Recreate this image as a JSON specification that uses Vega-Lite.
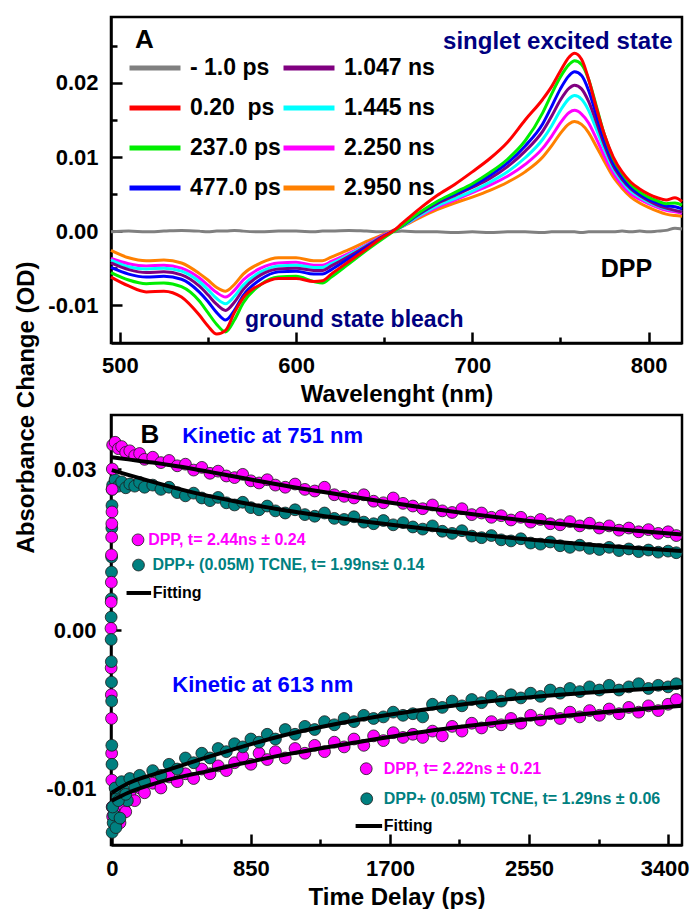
{
"$schema":"https://vega.github.io/schema/vega-lite/v6.json",
"background":"white",
"padding":{"left":12,"top":15,"right":0,"bottom":0},
"spacing":72,
"bounds":"flush",
"config":{
 "view":{"stroke":"black","strokeWidth":2.5},
 "font":"Liberation Sans",
 "axis":{"grid":false,"domainColor":"black","domainWidth":2.5,"tickColor":"black","tickWidth":2.5,"labelColor":"black","labelFont":"Liberation Sans","labelFontWeight":"bold","labelFontSize":22,"titleFont":"Liberation Sans","titleFontWeight":"bold","titleFontSize":24,"titleColor":"black","labelFlush":false,"labelOverlap":false}
},
"datasets":{
"spec":[
{"w":495,"s":"- 1.0 ps","v":-0.0001},{"w":505,"s":"- 1.0 ps","v":0.0},{"w":515,"s":"- 1.0 ps","v":-0.0001},{"w":525,"s":"- 1.0 ps","v":0.0},{"w":535,"s":"- 1.0 ps","v":0.0001},{"w":545,"s":"- 1.0 ps","v":0.0},{"w":550,"s":"- 1.0 ps","v":-0.0001},{"w":555,"s":"- 1.0 ps","v":0.0},{"w":560,"s":"- 1.0 ps","v":0.0},{"w":565,"s":"- 1.0 ps","v":0.0001},{"w":570,"s":"- 1.0 ps","v":0.0},{"w":580,"s":"- 1.0 ps","v":-0.0001},{"w":590,"s":"- 1.0 ps","v":0.0},{"w":600,"s":"- 1.0 ps","v":0.0},{"w":610,"s":"- 1.0 ps","v":-0.0001},{"w":615,"s":"- 1.0 ps","v":0.0},{"w":620,"s":"- 1.0 ps","v":0.0},{"w":630,"s":"- 1.0 ps","v":0.0001},{"w":640,"s":"- 1.0 ps","v":0.0},{"w":650,"s":"- 1.0 ps","v":-0.0001},{"w":655,"s":"- 1.0 ps","v":-0.0001},{"w":660,"s":"- 1.0 ps","v":0.0},{"w":670,"s":"- 1.0 ps","v":-0.0001},{"w":680,"s":"- 1.0 ps","v":-0.0001},{"w":690,"s":"- 1.0 ps","v":-0.0002},{"w":700,"s":"- 1.0 ps","v":-0.0001},{"w":710,"s":"- 1.0 ps","v":-0.0002},{"w":720,"s":"- 1.0 ps","v":-0.0001},{"w":730,"s":"- 1.0 ps","v":-0.0001},{"w":740,"s":"- 1.0 ps","v":-0.0002},{"w":745,"s":"- 1.0 ps","v":-0.0001},{"w":750,"s":"- 1.0 ps","v":-0.0001},{"w":755,"s":"- 1.0 ps","v":-0.0001},{"w":758,"s":"- 1.0 ps","v":-0.0001},{"w":762,"s":"- 1.0 ps","v":-0.0002},{"w":766,"s":"- 1.0 ps","v":-0.0001},{"w":770,"s":"- 1.0 ps","v":-0.0001},{"w":775,"s":"- 1.0 ps","v":-0.0001},{"w":780,"s":"- 1.0 ps","v":-0.0001},{"w":785,"s":"- 1.0 ps","v":0.0},{"w":790,"s":"- 1.0 ps","v":-0.0001},{"w":795,"s":"- 1.0 ps","v":0.0},{"w":800,"s":"- 1.0 ps","v":-0.0001},{"w":805,"s":"- 1.0 ps","v":0.0},{"w":810,"s":"- 1.0 ps","v":0.0001},{"w":815,"s":"- 1.0 ps","v":0.0004},{"w":819,"s":"- 1.0 ps","v":0.0003},
{"w":495,"s":"2.950 ns","v":-0.0026},{"w":505,"s":"2.950 ns","v":-0.0036},{"w":515,"s":"2.950 ns","v":-0.004},{"w":525,"s":"2.950 ns","v":-0.0039},{"w":535,"s":"2.950 ns","v":-0.0043},{"w":545,"s":"2.950 ns","v":-0.0057},{"w":550,"s":"2.950 ns","v":-0.0066},{"w":555,"s":"2.950 ns","v":-0.0076},{"w":560,"s":"2.950 ns","v":-0.0081},{"w":565,"s":"2.950 ns","v":-0.0072},{"w":570,"s":"2.950 ns","v":-0.0058},{"w":580,"s":"2.950 ns","v":-0.0043},{"w":590,"s":"2.950 ns","v":-0.0036},{"w":600,"s":"2.950 ns","v":-0.0036},{"w":610,"s":"2.950 ns","v":-0.004},{"w":615,"s":"2.950 ns","v":-0.004},{"w":620,"s":"2.950 ns","v":-0.0035},{"w":630,"s":"2.950 ns","v":-0.0025},{"w":640,"s":"2.950 ns","v":-0.0014},{"w":650,"s":"2.950 ns","v":-0.0004},{"w":655,"s":"2.950 ns","v":0.0001},{"w":660,"s":"2.950 ns","v":0.0006},{"w":670,"s":"2.950 ns","v":0.0018},{"w":680,"s":"2.950 ns","v":0.0029},{"w":690,"s":"2.950 ns","v":0.0038},{"w":700,"s":"2.950 ns","v":0.0046},{"w":710,"s":"2.950 ns","v":0.0055},{"w":720,"s":"2.950 ns","v":0.0066},{"w":730,"s":"2.950 ns","v":0.008},{"w":740,"s":"2.950 ns","v":0.01},{"w":745,"s":"2.950 ns","v":0.0115},{"w":750,"s":"2.950 ns","v":0.0132},{"w":755,"s":"2.950 ns","v":0.0145},{"w":758,"s":"2.950 ns","v":0.0148},{"w":762,"s":"2.950 ns","v":0.0144},{"w":766,"s":"2.950 ns","v":0.0133},{"w":770,"s":"2.950 ns","v":0.0116},{"w":775,"s":"2.950 ns","v":0.0094},{"w":780,"s":"2.950 ns","v":0.0073},{"w":785,"s":"2.950 ns","v":0.0058},{"w":790,"s":"2.950 ns","v":0.0046},{"w":795,"s":"2.950 ns","v":0.0038},{"w":800,"s":"2.950 ns","v":0.0032},{"w":805,"s":"2.950 ns","v":0.0027},{"w":810,"s":"2.950 ns","v":0.0023},{"w":815,"s":"2.950 ns","v":0.0021},{"w":819,"s":"2.950 ns","v":0.002},
{"w":495,"s":"2.250 ns","v":-0.0037},{"w":505,"s":"2.250 ns","v":-0.0044},{"w":515,"s":"2.250 ns","v":-0.0047},{"w":525,"s":"2.250 ns","v":-0.0046},{"w":535,"s":"2.250 ns","v":-0.005},{"w":545,"s":"2.250 ns","v":-0.0063},{"w":550,"s":"2.250 ns","v":-0.0073},{"w":555,"s":"2.250 ns","v":-0.0083},{"w":560,"s":"2.250 ns","v":-0.0089},{"w":565,"s":"2.250 ns","v":-0.008},{"w":570,"s":"2.250 ns","v":-0.0066},{"w":580,"s":"2.250 ns","v":-0.005},{"w":590,"s":"2.250 ns","v":-0.0043},{"w":600,"s":"2.250 ns","v":-0.0042},{"w":610,"s":"2.250 ns","v":-0.0046},{"w":615,"s":"2.250 ns","v":-0.0046},{"w":620,"s":"2.250 ns","v":-0.0041},{"w":630,"s":"2.250 ns","v":-0.003},{"w":640,"s":"2.250 ns","v":-0.0018},{"w":650,"s":"2.250 ns","v":-0.0005},{"w":655,"s":"2.250 ns","v":0.0},{"w":660,"s":"2.250 ns","v":0.0006},{"w":670,"s":"2.250 ns","v":0.002},{"w":680,"s":"2.250 ns","v":0.0032},{"w":690,"s":"2.250 ns","v":0.0042},{"w":700,"s":"2.250 ns","v":0.0052},{"w":710,"s":"2.250 ns","v":0.0062},{"w":720,"s":"2.250 ns","v":0.0074},{"w":730,"s":"2.250 ns","v":0.009},{"w":740,"s":"2.250 ns","v":0.0112},{"w":745,"s":"2.250 ns","v":0.0128},{"w":750,"s":"2.250 ns","v":0.0146},{"w":755,"s":"2.250 ns","v":0.016},{"w":758,"s":"2.250 ns","v":0.0163},{"w":762,"s":"2.250 ns","v":0.0158},{"w":766,"s":"2.250 ns","v":0.0146},{"w":770,"s":"2.250 ns","v":0.0127},{"w":775,"s":"2.250 ns","v":0.0101},{"w":780,"s":"2.250 ns","v":0.0078},{"w":785,"s":"2.250 ns","v":0.0062},{"w":790,"s":"2.250 ns","v":0.005},{"w":795,"s":"2.250 ns","v":0.0043},{"w":800,"s":"2.250 ns","v":0.0037},{"w":805,"s":"2.250 ns","v":0.0032},{"w":810,"s":"2.250 ns","v":0.0028},{"w":815,"s":"2.250 ns","v":0.0026},{"w":819,"s":"2.250 ns","v":0.0024},
{"w":495,"s":"1.445 ns","v":-0.0039},{"w":505,"s":"1.445 ns","v":-0.0048},{"w":515,"s":"1.445 ns","v":-0.0051},{"w":525,"s":"1.445 ns","v":-0.005},{"w":535,"s":"1.445 ns","v":-0.0054},{"w":545,"s":"1.445 ns","v":-0.0068},{"w":550,"s":"1.445 ns","v":-0.0079},{"w":555,"s":"1.445 ns","v":-0.0091},{"w":560,"s":"1.445 ns","v":-0.0098},{"w":565,"s":"1.445 ns","v":-0.0088},{"w":570,"s":"1.445 ns","v":-0.0073},{"w":580,"s":"1.445 ns","v":-0.0055},{"w":590,"s":"1.445 ns","v":-0.0047},{"w":600,"s":"1.445 ns","v":-0.0046},{"w":610,"s":"1.445 ns","v":-0.0049},{"w":615,"s":"1.445 ns","v":-0.0049},{"w":620,"s":"1.445 ns","v":-0.0044},{"w":630,"s":"1.445 ns","v":-0.0032},{"w":640,"s":"1.445 ns","v":-0.0019},{"w":650,"s":"1.445 ns","v":-0.0006},{"w":655,"s":"1.445 ns","v":0.0},{"w":660,"s":"1.445 ns","v":0.0006},{"w":670,"s":"1.445 ns","v":0.0021},{"w":680,"s":"1.445 ns","v":0.0034},{"w":690,"s":"1.445 ns","v":0.0044},{"w":700,"s":"1.445 ns","v":0.0054},{"w":710,"s":"1.445 ns","v":0.0066},{"w":720,"s":"1.445 ns","v":0.008},{"w":730,"s":"1.445 ns","v":0.0099},{"w":740,"s":"1.445 ns","v":0.0124},{"w":745,"s":"1.445 ns","v":0.0142},{"w":750,"s":"1.445 ns","v":0.0163},{"w":755,"s":"1.445 ns","v":0.0179},{"w":758,"s":"1.445 ns","v":0.0183},{"w":762,"s":"1.445 ns","v":0.0178},{"w":766,"s":"1.445 ns","v":0.0163},{"w":770,"s":"1.445 ns","v":0.014},{"w":775,"s":"1.445 ns","v":0.011},{"w":780,"s":"1.445 ns","v":0.0084},{"w":785,"s":"1.445 ns","v":0.0067},{"w":790,"s":"1.445 ns","v":0.0054},{"w":795,"s":"1.445 ns","v":0.0046},{"w":800,"s":"1.445 ns","v":0.0039},{"w":805,"s":"1.445 ns","v":0.0034},{"w":810,"s":"1.445 ns","v":0.003},{"w":815,"s":"1.445 ns","v":0.0028},{"w":819,"s":"1.445 ns","v":0.0026},
{"w":495,"s":"1.047 ns","v":-0.0043},{"w":505,"s":"1.047 ns","v":-0.0052},{"w":515,"s":"1.047 ns","v":-0.0056},{"w":525,"s":"1.047 ns","v":-0.0055},{"w":535,"s":"1.047 ns","v":-0.0059},{"w":545,"s":"1.047 ns","v":-0.0074},{"w":550,"s":"1.047 ns","v":-0.0086},{"w":555,"s":"1.047 ns","v":-0.0099},{"w":560,"s":"1.047 ns","v":-0.0107},{"w":565,"s":"1.047 ns","v":-0.0096},{"w":570,"s":"1.047 ns","v":-0.0079},{"w":580,"s":"1.047 ns","v":-0.0059},{"w":590,"s":"1.047 ns","v":-0.0051},{"w":600,"s":"1.047 ns","v":-0.005},{"w":610,"s":"1.047 ns","v":-0.0053},{"w":615,"s":"1.047 ns","v":-0.0053},{"w":620,"s":"1.047 ns","v":-0.0047},{"w":630,"s":"1.047 ns","v":-0.0034},{"w":640,"s":"1.047 ns","v":-0.002},{"w":650,"s":"1.047 ns","v":-0.0006},{"w":655,"s":"1.047 ns","v":0.0},{"w":660,"s":"1.047 ns","v":0.0007},{"w":670,"s":"1.047 ns","v":0.0023},{"w":680,"s":"1.047 ns","v":0.0037},{"w":690,"s":"1.047 ns","v":0.0048},{"w":700,"s":"1.047 ns","v":0.0059},{"w":710,"s":"1.047 ns","v":0.0071},{"w":720,"s":"1.047 ns","v":0.0087},{"w":730,"s":"1.047 ns","v":0.0108},{"w":740,"s":"1.047 ns","v":0.0135},{"w":745,"s":"1.047 ns","v":0.0155},{"w":750,"s":"1.047 ns","v":0.0177},{"w":755,"s":"1.047 ns","v":0.0193},{"w":758,"s":"1.047 ns","v":0.0197},{"w":762,"s":"1.047 ns","v":0.0192},{"w":766,"s":"1.047 ns","v":0.0175},{"w":770,"s":"1.047 ns","v":0.015},{"w":775,"s":"1.047 ns","v":0.0116},{"w":780,"s":"1.047 ns","v":0.0088},{"w":785,"s":"1.047 ns","v":0.007},{"w":790,"s":"1.047 ns","v":0.0057},{"w":795,"s":"1.047 ns","v":0.0048},{"w":800,"s":"1.047 ns","v":0.0041},{"w":805,"s":"1.047 ns","v":0.0035},{"w":810,"s":"1.047 ns","v":0.0031},{"w":815,"s":"1.047 ns","v":0.0028},{"w":819,"s":"1.047 ns","v":0.0026},
{"w":495,"s":"477.0 ps","v":-0.0049},{"w":505,"s":"477.0 ps","v":-0.0058},{"w":515,"s":"477.0 ps","v":-0.0062},{"w":525,"s":"477.0 ps","v":-0.0061},{"w":535,"s":"477.0 ps","v":-0.0065},{"w":545,"s":"477.0 ps","v":-0.0082},{"w":550,"s":"477.0 ps","v":-0.0095},{"w":555,"s":"477.0 ps","v":-0.011},{"w":560,"s":"477.0 ps","v":-0.012},{"w":565,"s":"477.0 ps","v":-0.0107},{"w":570,"s":"477.0 ps","v":-0.0087},{"w":580,"s":"477.0 ps","v":-0.0065},{"w":590,"s":"477.0 ps","v":-0.0055},{"w":600,"s":"477.0 ps","v":-0.0054},{"w":610,"s":"477.0 ps","v":-0.0058},{"w":615,"s":"477.0 ps","v":-0.0058},{"w":620,"s":"477.0 ps","v":-0.0052},{"w":630,"s":"477.0 ps","v":-0.0037},{"w":640,"s":"477.0 ps","v":-0.0022},{"w":650,"s":"477.0 ps","v":-0.0007},{"w":655,"s":"477.0 ps","v":0.0},{"w":660,"s":"477.0 ps","v":0.0007},{"w":670,"s":"477.0 ps","v":0.0024},{"w":680,"s":"477.0 ps","v":0.0039},{"w":690,"s":"477.0 ps","v":0.005},{"w":700,"s":"477.0 ps","v":0.0061},{"w":710,"s":"477.0 ps","v":0.0075},{"w":720,"s":"477.0 ps","v":0.0092},{"w":730,"s":"477.0 ps","v":0.0115},{"w":740,"s":"477.0 ps","v":0.0145},{"w":745,"s":"477.0 ps","v":0.0168},{"w":750,"s":"477.0 ps","v":0.0192},{"w":755,"s":"477.0 ps","v":0.021},{"w":758,"s":"477.0 ps","v":0.0215},{"w":762,"s":"477.0 ps","v":0.021},{"w":766,"s":"477.0 ps","v":0.019},{"w":770,"s":"477.0 ps","v":0.016},{"w":775,"s":"477.0 ps","v":0.0122},{"w":780,"s":"477.0 ps","v":0.0092},{"w":785,"s":"477.0 ps","v":0.0073},{"w":790,"s":"477.0 ps","v":0.0059},{"w":795,"s":"477.0 ps","v":0.005},{"w":800,"s":"477.0 ps","v":0.0043},{"w":805,"s":"477.0 ps","v":0.0038},{"w":810,"s":"477.0 ps","v":0.0034},{"w":815,"s":"477.0 ps","v":0.0033},{"w":819,"s":"477.0 ps","v":0.003},
{"w":495,"s":"237.0 ps","v":-0.0056},{"w":505,"s":"237.0 ps","v":-0.0066},{"w":515,"s":"237.0 ps","v":-0.0071},{"w":525,"s":"237.0 ps","v":-0.007},{"w":535,"s":"237.0 ps","v":-0.0075},{"w":545,"s":"237.0 ps","v":-0.0094},{"w":550,"s":"237.0 ps","v":-0.011},{"w":555,"s":"237.0 ps","v":-0.0126},{"w":560,"s":"237.0 ps","v":-0.0136},{"w":565,"s":"237.0 ps","v":-0.012},{"w":570,"s":"237.0 ps","v":-0.0097},{"w":580,"s":"237.0 ps","v":-0.0072},{"w":590,"s":"237.0 ps","v":-0.0062},{"w":600,"s":"237.0 ps","v":-0.0061},{"w":610,"s":"237.0 ps","v":-0.0068},{"w":615,"s":"237.0 ps","v":-0.007},{"w":620,"s":"237.0 ps","v":-0.0062},{"w":630,"s":"237.0 ps","v":-0.0044},{"w":640,"s":"237.0 ps","v":-0.0026},{"w":650,"s":"237.0 ps","v":-0.0009},{"w":655,"s":"237.0 ps","v":-0.0001},{"w":660,"s":"237.0 ps","v":0.0007},{"w":670,"s":"237.0 ps","v":0.0025},{"w":680,"s":"237.0 ps","v":0.004},{"w":690,"s":"237.0 ps","v":0.0052},{"w":700,"s":"237.0 ps","v":0.0064},{"w":710,"s":"237.0 ps","v":0.0079},{"w":720,"s":"237.0 ps","v":0.0097},{"w":730,"s":"237.0 ps","v":0.0122},{"w":740,"s":"237.0 ps","v":0.016},{"w":745,"s":"237.0 ps","v":0.0185},{"w":750,"s":"237.0 ps","v":0.0208},{"w":755,"s":"237.0 ps","v":0.0225},{"w":758,"s":"237.0 ps","v":0.023},{"w":762,"s":"237.0 ps","v":0.0225},{"w":766,"s":"237.0 ps","v":0.0205},{"w":770,"s":"237.0 ps","v":0.0172},{"w":775,"s":"237.0 ps","v":0.013},{"w":780,"s":"237.0 ps","v":0.0098},{"w":785,"s":"237.0 ps","v":0.0078},{"w":790,"s":"237.0 ps","v":0.0063},{"w":795,"s":"237.0 ps","v":0.0053},{"w":800,"s":"237.0 ps","v":0.0046},{"w":805,"s":"237.0 ps","v":0.0041},{"w":810,"s":"237.0 ps","v":0.0037},{"w":815,"s":"237.0 ps","v":0.0038},{"w":819,"s":"237.0 ps","v":0.0035},
{"w":495,"s":"0.20\u00a0\u00a0ps","v":-0.0062},{"w":505,"s":"0.20\u00a0\u00a0ps","v":-0.0074},{"w":515,"s":"0.20\u00a0\u00a0ps","v":-0.0082},{"w":525,"s":"0.20\u00a0\u00a0ps","v":-0.0081},{"w":535,"s":"0.20\u00a0\u00a0ps","v":-0.0089},{"w":545,"s":"0.20\u00a0\u00a0ps","v":-0.0113},{"w":550,"s":"0.20\u00a0\u00a0ps","v":-0.0128},{"w":555,"s":"0.20\u00a0\u00a0ps","v":-0.0139},{"w":560,"s":"0.20\u00a0\u00a0ps","v":-0.0134},{"w":565,"s":"0.20\u00a0\u00a0ps","v":-0.011},{"w":570,"s":"0.20\u00a0\u00a0ps","v":-0.009},{"w":580,"s":"0.20\u00a0\u00a0ps","v":-0.0072},{"w":590,"s":"0.20\u00a0\u00a0ps","v":-0.0064},{"w":600,"s":"0.20\u00a0\u00a0ps","v":-0.0064},{"w":610,"s":"0.20\u00a0\u00a0ps","v":-0.0068},{"w":615,"s":"0.20\u00a0\u00a0ps","v":-0.0067},{"w":620,"s":"0.20\u00a0\u00a0ps","v":-0.0058},{"w":630,"s":"0.20\u00a0\u00a0ps","v":-0.0041},{"w":640,"s":"0.20\u00a0\u00a0ps","v":-0.0024},{"w":650,"s":"0.20\u00a0\u00a0ps","v":-0.0007},{"w":655,"s":"0.20\u00a0\u00a0ps","v":0.0},{"w":660,"s":"0.20\u00a0\u00a0ps","v":0.001},{"w":670,"s":"0.20\u00a0\u00a0ps","v":0.003},{"w":680,"s":"0.20\u00a0\u00a0ps","v":0.0048},{"w":690,"s":"0.20\u00a0\u00a0ps","v":0.0063},{"w":700,"s":"0.20\u00a0\u00a0ps","v":0.008},{"w":710,"s":"0.20\u00a0\u00a0ps","v":0.0098},{"w":720,"s":"0.20\u00a0\u00a0ps","v":0.012},{"w":730,"s":"0.20\u00a0\u00a0ps","v":0.015},{"w":740,"s":"0.20\u00a0\u00a0ps","v":0.0178},{"w":745,"s":"0.20\u00a0\u00a0ps","v":0.0195},{"w":750,"s":"0.20\u00a0\u00a0ps","v":0.0216},{"w":755,"s":"0.20\u00a0\u00a0ps","v":0.0235},{"w":758,"s":"0.20\u00a0\u00a0ps","v":0.024},{"w":762,"s":"0.20\u00a0\u00a0ps","v":0.0232},{"w":766,"s":"0.20\u00a0\u00a0ps","v":0.0205},{"w":770,"s":"0.20\u00a0\u00a0ps","v":0.017},{"w":775,"s":"0.20\u00a0\u00a0ps","v":0.013},{"w":780,"s":"0.20\u00a0\u00a0ps","v":0.01},{"w":785,"s":"0.20\u00a0\u00a0ps","v":0.008},{"w":790,"s":"0.20\u00a0\u00a0ps","v":0.0066},{"w":795,"s":"0.20\u00a0\u00a0ps","v":0.0057},{"w":800,"s":"0.20\u00a0\u00a0ps","v":0.005},{"w":805,"s":"0.20\u00a0\u00a0ps","v":0.0045},{"w":810,"s":"0.20\u00a0\u00a0ps","v":0.0042},{"w":815,"s":"0.20\u00a0\u00a0ps","v":0.0045},{"w":819,"s":"0.20\u00a0\u00a0ps","v":0.004}
],
"kin":[
{"t":-4,"v":0.0024,"s":"T751"},{"t":-3,"v":0.0058,"s":"T751"},{"t":-2,"v":0.0108,"s":"T751"},{"t":-1,"v":0.0136,"s":"T751"},{"t":0,"v":0.019,"s":"T751"},{"t":1,"v":0.0232,"s":"T751"},{"t":2,"v":0.0262,"s":"T751"},
{"t":5,"v":0.027,"s":"T751"},{"t":20,"v":0.028,"s":"T751"},{"t":40,"v":0.0268,"s":"T751"},{"t":60,"v":0.0276,"s":"T751"},{"t":85,"v":0.0265,"s":"T751"},{"t":110,"v":0.0272,"s":"T751"},{"t":140,"v":0.0268,"s":"T751"},{"t":170,"v":0.0275,"s":"T751"},{"t":200,"v":0.0266,"s":"T751"},{"t":250,"v":0.027,"s":"T751"},{"t":300,"v":0.0262,"s":"T751"},{"t":350,"v":0.0266,"s":"T751"},{"t":400,"v":0.0256,"s":"T751"},{"t":450,"v":0.025,"s":"T751"},{"t":500,"v":0.0255,"s":"T751"},{"t":550,"v":0.0246,"s":"T751"},{"t":600,"v":0.0241,"s":"T751"},{"t":650,"v":0.0247,"s":"T751"},{"t":700,"v":0.0237,"s":"T751"},{"t":750,"v":0.0233,"s":"T751"},{"t":800,"v":0.0238,"s":"T751"},{"t":850,"v":0.0228,"s":"T751"},{"t":900,"v":0.0224,"s":"T751"},{"t":950,"v":0.0231,"s":"T751"},{"t":1000,"v":0.0222,"s":"T751"},{"t":1060,"v":0.0218,"s":"T751"},{"t":1120,"v":0.0224,"s":"T751"},{"t":1180,"v":0.0215,"s":"T751"},{"t":1240,"v":0.0212,"s":"T751"},{"t":1300,"v":0.0218,"s":"T751"},{"t":1360,"v":0.0208,"s":"T751"},{"t":1420,"v":0.0206,"s":"T751"},{"t":1480,"v":0.0211,"s":"T751"},{"t":1540,"v":0.0201,"s":"T751"},{"t":1600,"v":0.0198,"s":"T751"},{"t":1660,"v":0.0204,"s":"T751"},{"t":1720,"v":0.0196,"s":"T751"},{"t":1780,"v":0.02,"s":"T751"},{"t":1840,"v":0.0192,"s":"T751"},{"t":1900,"v":0.0188,"s":"T751"},{"t":1960,"v":0.0194,"s":"T751"},{"t":2020,"v":0.0184,"s":"T751"},{"t":2080,"v":0.018,"s":"T751"},{"t":2140,"v":0.0185,"s":"T751"},{"t":2200,"v":0.0175,"s":"T751"},{"t":2260,"v":0.0172,"s":"T751"},{"t":2320,"v":0.0176,"s":"T751"},{"t":2380,"v":0.0168,"s":"T751"},{"t":2440,"v":0.0166,"s":"T751"},{"t":2500,"v":0.017,"s":"T751"},{"t":2560,"v":0.0162,"s":"T751"},{"t":2620,"v":0.016,"s":"T751"},{"t":2680,"v":0.0164,"s":"T751"},{"t":2740,"v":0.0157,"s":"T751"},{"t":2800,"v":0.0154,"s":"T751"},{"t":2860,"v":0.0158,"s":"T751"},{"t":2920,"v":0.0152,"s":"T751"},{"t":2980,"v":0.015,"s":"T751"},{"t":3040,"v":0.0154,"s":"T751"},{"t":3100,"v":0.0148,"s":"T751"},{"t":3160,"v":0.0151,"s":"T751"},{"t":3220,"v":0.0146,"s":"T751"},{"t":3280,"v":0.0149,"s":"T751"},{"t":3340,"v":0.0145,"s":"T751"},{"t":3400,"v":0.0147,"s":"T751"},{"t":3450,"v":0.0144,"s":"T751"},
{"t":-5,"v":0.0003,"s":"D751"},{"t":-4,"v":0.0052,"s":"D751"},{"t":-3,"v":0.0089,"s":"D751"},{"t":-2,"v":0.014,"s":"D751"},{"t":-1,"v":0.0173,"s":"D751"},{"t":0,"v":0.0198,"s":"D751"},{"t":1,"v":0.022,"s":"D751"},{"t":2,"v":0.0262,"s":"D751"},{"t":3,"v":0.03,"s":"D751"},
{"t":5,"v":0.0345,"s":"D751"},{"t":20,"v":0.035,"s":"D751"},{"t":40,"v":0.0338,"s":"D751"},{"t":60,"v":0.0342,"s":"D751"},{"t":85,"v":0.0331,"s":"D751"},{"t":110,"v":0.0334,"s":"D751"},{"t":140,"v":0.0325,"s":"D751"},{"t":170,"v":0.0329,"s":"D751"},{"t":200,"v":0.0318,"s":"D751"},{"t":250,"v":0.0322,"s":"D751"},{"t":300,"v":0.0312,"s":"D751"},{"t":350,"v":0.0316,"s":"D751"},{"t":400,"v":0.0306,"s":"D751"},{"t":450,"v":0.0309,"s":"D751"},{"t":500,"v":0.0298,"s":"D751"},{"t":550,"v":0.0303,"s":"D751"},{"t":600,"v":0.0292,"s":"D751"},{"t":650,"v":0.0296,"s":"D751"},{"t":700,"v":0.0287,"s":"D751"},{"t":750,"v":0.0284,"s":"D751"},{"t":800,"v":0.029,"s":"D751"},{"t":850,"v":0.0278,"s":"D751"},{"t":900,"v":0.0274,"s":"D751"},{"t":950,"v":0.028,"s":"D751"},{"t":1000,"v":0.027,"s":"D751"},{"t":1060,"v":0.0266,"s":"D751"},{"t":1120,"v":0.0272,"s":"D751"},{"t":1180,"v":0.0262,"s":"D751"},{"t":1240,"v":0.0259,"s":"D751"},{"t":1300,"v":0.0266,"s":"D751"},{"t":1360,"v":0.0252,"s":"D751"},{"t":1420,"v":0.0249,"s":"D751"},{"t":1480,"v":0.0246,"s":"D751"},{"t":1540,"v":0.0252,"s":"D751"},{"t":1600,"v":0.024,"s":"D751"},{"t":1660,"v":0.0237,"s":"D751"},{"t":1720,"v":0.0246,"s":"D751"},{"t":1780,"v":0.0236,"s":"D751"},{"t":1840,"v":0.0231,"s":"D751"},{"t":1900,"v":0.0226,"s":"D751"},{"t":1960,"v":0.0233,"s":"D751"},{"t":2020,"v":0.0222,"s":"D751"},{"t":2080,"v":0.0219,"s":"D751"},{"t":2140,"v":0.0226,"s":"D751"},{"t":2200,"v":0.0215,"s":"D751"},{"t":2260,"v":0.0218,"s":"D751"},{"t":2320,"v":0.021,"s":"D751"},{"t":2380,"v":0.0213,"s":"D751"},{"t":2440,"v":0.0205,"s":"D751"},{"t":2500,"v":0.021,"s":"D751"},{"t":2560,"v":0.0201,"s":"D751"},{"t":2620,"v":0.0206,"s":"D751"},{"t":2680,"v":0.0198,"s":"D751"},{"t":2740,"v":0.0196,"s":"D751"},{"t":2800,"v":0.0202,"s":"D751"},{"t":2860,"v":0.0194,"s":"D751"},{"t":2920,"v":0.0199,"s":"D751"},{"t":2980,"v":0.019,"s":"D751"},{"t":3040,"v":0.0194,"s":"D751"},{"t":3100,"v":0.0186,"s":"D751"},{"t":3160,"v":0.019,"s":"D751"},{"t":3220,"v":0.0183,"s":"D751"},{"t":3280,"v":0.0187,"s":"D751"},{"t":3340,"v":0.018,"s":"D751"},{"t":3400,"v":0.0183,"s":"D751"},{"t":3450,"v":0.0176,"s":"D751"},
{"t":-4,"v":-0.0024,"s":"D613"},{"t":-3,"v":-0.0041,"s":"D613"},{"t":-2,"v":-0.0056,"s":"D613"},{"t":-1,"v":-0.0078,"s":"D613"},{"t":0,"v":-0.0095,"s":"D613"},{"t":2,"v":-0.0112,"s":"D613"},{"t":30,"v":-0.011,"s":"D613"},{"t":50,"v":-0.0122,"s":"D613"},{"t":75,"v":-0.0113,"s":"D613"},
{"t":5,"v":-0.0118,"s":"D613"},{"t":20,"v":-0.0112,"s":"D613"},{"t":40,"v":-0.012,"s":"D613"},{"t":60,"v":-0.011,"s":"D613"},{"t":85,"v":-0.0115,"s":"D613"},{"t":110,"v":-0.0104,"s":"D613"},{"t":140,"v":-0.0108,"s":"D613"},{"t":170,"v":-0.01,"s":"D613"},{"t":200,"v":-0.0103,"s":"D613"},{"t":250,"v":-0.0097,"s":"D613"},{"t":300,"v":-0.01,"s":"D613"},{"t":350,"v":-0.0093,"s":"D613"},{"t":400,"v":-0.0096,"s":"D613"},{"t":450,"v":-0.0091,"s":"D613"},{"t":500,"v":-0.0094,"s":"D613"},{"t":550,"v":-0.0088,"s":"D613"},{"t":600,"v":-0.0091,"s":"D613"},{"t":650,"v":-0.0086,"s":"D613"},{"t":700,"v":-0.0089,"s":"D613"},{"t":750,"v":-0.0084,"s":"D613"},{"t":800,"v":-0.008,"s":"D613"},{"t":850,"v":-0.0085,"s":"D613"},{"t":900,"v":-0.0078,"s":"D613"},{"t":950,"v":-0.0082,"s":"D613"},{"t":1000,"v":-0.0077,"s":"D613"},{"t":1060,"v":-0.0081,"s":"D613"},{"t":1120,"v":-0.0075,"s":"D613"},{"t":1180,"v":-0.0078,"s":"D613"},{"t":1240,"v":-0.0073,"s":"D613"},{"t":1300,"v":-0.0077,"s":"D613"},{"t":1360,"v":-0.0071,"s":"D613"},{"t":1420,"v":-0.0074,"s":"D613"},{"t":1480,"v":-0.0069,"s":"D613"},{"t":1540,"v":-0.0073,"s":"D613"},{"t":1600,"v":-0.0067,"s":"D613"},{"t":1660,"v":-0.007,"s":"D613"},{"t":1720,"v":-0.0065,"s":"D613"},{"t":1780,"v":-0.0068,"s":"D613"},{"t":1840,"v":-0.0066,"s":"D613"},{"t":1900,"v":-0.0068,"s":"D613"},{"t":1960,"v":-0.0064,"s":"D613"},{"t":2020,"v":-0.0067,"s":"D613"},{"t":2080,"v":-0.0061,"s":"D613"},{"t":2140,"v":-0.0064,"s":"D613"},{"t":2200,"v":-0.0059,"s":"D613"},{"t":2260,"v":-0.0062,"s":"D613"},{"t":2320,"v":-0.0058,"s":"D613"},{"t":2380,"v":-0.006,"s":"D613"},{"t":2440,"v":-0.0056,"s":"D613"},{"t":2500,"v":-0.0059,"s":"D613"},{"t":2560,"v":-0.0054,"s":"D613"},{"t":2620,"v":-0.0057,"s":"D613"},{"t":2680,"v":-0.0053,"s":"D613"},{"t":2740,"v":-0.0056,"s":"D613"},{"t":2800,"v":-0.0052,"s":"D613"},{"t":2860,"v":-0.0055,"s":"D613"},{"t":2920,"v":-0.0051,"s":"D613"},{"t":2980,"v":-0.0054,"s":"D613"},{"t":3040,"v":-0.005,"s":"D613"},{"t":3100,"v":-0.0053,"s":"D613"},{"t":3160,"v":-0.0049,"s":"D613"},{"t":3220,"v":-0.0052,"s":"D613"},{"t":3280,"v":-0.0048,"s":"D613"},{"t":3340,"v":-0.0051,"s":"D613"},{"t":3400,"v":-0.0047,"s":"D613"},{"t":3450,"v":-0.0044,"s":"D613"},
{"t":-4,"v":-0.0006,"s":"T613"},{"t":-3,"v":-0.002,"s":"T613"},{"t":-2,"v":-0.0033,"s":"T613"},{"t":-1,"v":-0.0045,"s":"T613"},{"t":0,"v":-0.0073,"s":"T613"},{"t":1,"v":-0.0085,"s":"T613"},{"t":2,"v":-0.0128,"s":"T613"},{"t":8,"v":-0.0122,"s":"T613"},{"t":12,"v":-0.0117,"s":"T613"},{"t":25,"v":-0.0125,"s":"T613"},{"t":35,"v":-0.0106,"s":"T613"},{"t":50,"v":-0.0119,"s":"T613"},{"t":70,"v":-0.0101,"s":"T613"},{"t":95,"v":-0.0108,"s":"T613"},
{"t":5,"v":-0.0112,"s":"T613"},{"t":20,"v":-0.01,"s":"T613"},{"t":40,"v":-0.0108,"s":"T613"},{"t":60,"v":-0.0096,"s":"T613"},{"t":85,"v":-0.0104,"s":"T613"},{"t":110,"v":-0.0094,"s":"T613"},{"t":140,"v":-0.0099,"s":"T613"},{"t":170,"v":-0.0092,"s":"T613"},{"t":200,"v":-0.0096,"s":"T613"},{"t":250,"v":-0.0089,"s":"T613"},{"t":300,"v":-0.0092,"s":"T613"},{"t":350,"v":-0.0085,"s":"T613"},{"t":400,"v":-0.0088,"s":"T613"},{"t":450,"v":-0.0081,"s":"T613"},{"t":500,"v":-0.0084,"s":"T613"},{"t":550,"v":-0.0078,"s":"T613"},{"t":600,"v":-0.0081,"s":"T613"},{"t":650,"v":-0.0075,"s":"T613"},{"t":700,"v":-0.0077,"s":"T613"},{"t":750,"v":-0.0072,"s":"T613"},{"t":800,"v":-0.0074,"s":"T613"},{"t":850,"v":-0.0069,"s":"T613"},{"t":900,"v":-0.0071,"s":"T613"},{"t":950,"v":-0.0066,"s":"T613"},{"t":1000,"v":-0.0069,"s":"T613"},{"t":1060,"v":-0.0063,"s":"T613"},{"t":1120,"v":-0.0066,"s":"T613"},{"t":1180,"v":-0.0061,"s":"T613"},{"t":1240,"v":-0.0063,"s":"T613"},{"t":1300,"v":-0.0058,"s":"T613"},{"t":1360,"v":-0.006,"s":"T613"},{"t":1420,"v":-0.0056,"s":"T613"},{"t":1480,"v":-0.0058,"s":"T613"},{"t":1540,"v":-0.0054,"s":"T613"},{"t":1600,"v":-0.0056,"s":"T613"},{"t":1660,"v":-0.0055,"s":"T613"},{"t":1720,"v":-0.0052,"s":"T613"},{"t":1780,"v":-0.0054,"s":"T613"},{"t":1840,"v":-0.0053,"s":"T613"},{"t":1900,"v":-0.0055,"s":"T613"},{"t":1960,"v":-0.0047,"s":"T613"},{"t":2020,"v":-0.0049,"s":"T613"},{"t":2080,"v":-0.0045,"s":"T613"},{"t":2140,"v":-0.0048,"s":"T613"},{"t":2200,"v":-0.0044,"s":"T613"},{"t":2260,"v":-0.0046,"s":"T613"},{"t":2320,"v":-0.0042,"s":"T613"},{"t":2380,"v":-0.0045,"s":"T613"},{"t":2440,"v":-0.0041,"s":"T613"},{"t":2500,"v":-0.0043,"s":"T613"},{"t":2560,"v":-0.004,"s":"T613"},{"t":2620,"v":-0.0042,"s":"T613"},{"t":2680,"v":-0.0038,"s":"T613"},{"t":2740,"v":-0.004,"s":"T613"},{"t":2800,"v":-0.0037,"s":"T613"},{"t":2860,"v":-0.0039,"s":"T613"},{"t":2920,"v":-0.0036,"s":"T613"},{"t":2980,"v":-0.0038,"s":"T613"},{"t":3040,"v":-0.0035,"s":"T613"},{"t":3100,"v":-0.0038,"s":"T613"},{"t":3160,"v":-0.0036,"s":"T613"},{"t":3220,"v":-0.0034,"s":"T613"},{"t":3280,"v":-0.0037,"s":"T613"},{"t":3340,"v":-0.0035,"s":"T613"},{"t":3400,"v":-0.0036,"s":"T613"},{"t":3450,"v":-0.0034,"s":"T613"}
],
"fit":[
{"t":0,"v":0.0322,"s":"D751"},{"t":100,"v":0.0318,"s":"D751"},{"t":250,"v":0.0312,"s":"D751"},{"t":500,"v":0.03,"s":"D751"},{"t":750,"v":0.0286,"s":"D751"},{"t":1000,"v":0.0272,"s":"D751"},{"t":1500,"v":0.0247,"s":"D751"},{"t":2000,"v":0.0224,"s":"D751"},{"t":2500,"v":0.0205,"s":"D751"},{"t":3000,"v":0.019,"s":"D751"},{"t":3485,"v":0.0178,"s":"D751"},
{"t":0,"v":0.0298,"s":"T751"},{"t":100,"v":0.0289,"s":"T751"},{"t":250,"v":0.0276,"s":"T751"},{"t":500,"v":0.0256,"s":"T751"},{"t":750,"v":0.024,"s":"T751"},{"t":1000,"v":0.0226,"s":"T751"},{"t":1500,"v":0.0204,"s":"T751"},{"t":2000,"v":0.0186,"s":"T751"},{"t":2500,"v":0.017,"s":"T751"},{"t":3000,"v":0.0157,"s":"T751"},{"t":3485,"v":0.0147,"s":"T751"},
{"t":0,"v":-0.0108,"s":"D613"},{"t":100,"v":-0.0103,"s":"D613"},{"t":300,"v":-0.0096,"s":"D613"},{"t":600,"v":-0.0089,"s":"D613"},{"t":1000,"v":-0.008,"s":"D613"},{"t":1500,"v":-0.0071,"s":"D613"},{"t":2000,"v":-0.0063,"s":"D613"},{"t":2500,"v":-0.0057,"s":"D613"},{"t":3000,"v":-0.0052,"s":"D613"},{"t":3485,"v":-0.0048,"s":"D613"},
{"t":0,"v":-0.0103,"s":"T613"},{"t":100,"v":-0.0097,"s":"T613"},{"t":300,"v":-0.009,"s":"T613"},{"t":600,"v":-0.008,"s":"T613"},{"t":1000,"v":-0.0068,"s":"T613"},{"t":1500,"v":-0.0057,"s":"T613"},{"t":2000,"v":-0.0049,"s":"T613"},{"t":2500,"v":-0.0043,"s":"T613"},{"t":3000,"v":-0.0039,"s":"T613"},{"t":3485,"v":-0.0036,"s":"T613"}
]
},
"vconcat":[
{
 "width":571,"height":326,
 "layer":[
  {"data":{"name":"spec"},
   "mark":{"type":"line","strokeWidth":3,"interpolate":"monotone"},
   "encoding":{
    "x":{"field":"w","type":"quantitative","scale":{"domain":[495,819],"nice":false,"zero":false},
     "axis":{"title":"Wavelenght (nm)","values":[500,550,600,650,700,750,800],"format":"d","labelExpr":"datum.value % 100 === 0 ? datum.label : ''","tickSize":{"condition":{"test":"datum.value % 100 === 0","value":-11},"value":-6},"labelPadding":23,"titlePadding":1}},
    "y":{"field":"v","type":"quantitative","scale":{"domain":[-0.0151,0.0289],"nice":false,"zero":false},
     "axis":{"title":"Absorbance Change (OD)","values":[-0.01,-0.005,0,0.005,0.01,0.015,0.02,0.025],"format":".2f","labelExpr":"abs(datum.value*100-round(datum.value*100))<0.001 ? replace(datum.label,'\u2212','-') : ''","tickSize":{"condition":{"test":"abs(datum.value*100-round(datum.value*100))<0.001","value":-11},"value":-6},"labelPadding":24,"titleX":-85,"titleY":390,"titleAngle":-90,"titleBaseline":"middle","titleAlign":"center"}},
    "color":{"field":"s","type":"nominal",
     "scale":{"domain":["- 1.0 ps","0.20\u00a0\u00a0ps","237.0 ps","477.0 ps","1.047 ns","1.445 ns","2.250 ns","2.950 ns"],"range":["#808080","#FF0000","#00EE00","#0000FF","#800080","#00FFFF","#FF00FF","#FF8000"]},
     "legend":{"orient":"none","legendX":16,"legendY":23,"columns":2,"title":null,"symbolType":"stroke","symbolSize":2600,"symbolStrokeWidth":5,"labelFont":"Liberation Sans","labelFontWeight":"bold","labelFontSize":23,"labelColor":"black","labelOffset":7,"rowPadding":-14,"columnPadding":-8,"padding":0}}
   }},
  {"data":{"values":[{}]},"mark":{"type":"text","text":"A","font":"Liberation Sans","fontWeight":"bold","fontSize":26,"align":"center","baseline":"middle","color":"black"},"encoding":{"x":{"datum":514},"y":{"datum":0.0258}}},
  {"data":{"values":[{}]},"mark":{"type":"text","text":"singlet excited state","font":"Liberation Sans","fontWeight":"bold","fontSize":24,"align":"right","baseline":"middle","color":"#000080"},"encoding":{"x":{"datum":813.6},"y":{"datum":0.0255}}},
  {"data":{"values":[{}]},"mark":{"type":"text","text":"ground state bleach","font":"Liberation Sans","fontWeight":"bold","fontSize":23,"align":"left","baseline":"middle","color":"#000080"},"encoding":{"x":{"datum":571},"y":{"datum":-0.012}}},
  {"data":{"values":[{}]},"mark":{"type":"text","text":"DPP","font":"Liberation Sans","fontWeight":"bold","fontSize":25,"align":"center","baseline":"middle","color":"black"},"encoding":{"x":{"datum":787.5},"y":{"datum":-0.0051}}}
 ]
},
{
 "width":571,"height":430,
 "layer":[
  {"data":{"name":"kin"},
   "mark":{"type":"circle","size":140,"stroke":"#1a1a1a","strokeWidth":0.8,"opacity":1},
   "encoding":{
    "x":{"field":"t","type":"quantitative","scale":{"domain":[-5,3485],"nice":false,"zero":false},
     "axis":{"title":"Time Delay (ps)","values":[0,425,850,1275,1700,2125,2550,2975,3400],"format":"d","labelExpr":"datum.value % 850 === 0 ? datum.label : ''","labelAlign":{"condition":{"test":"datum.value === 3400","value":"right"},"value":"center"},"labelOffset":{"condition":{"test":"datum.value === 3400","value":21},"value":0},"tickSize":{"condition":{"test":"datum.value % 850 === 0","value":-11},"value":-6},"labelPadding":24,"titlePadding":1}},
    "y":{"field":"v","type":"quantitative","scale":{"domain":[-0.0136,-0.01,0,0.03,0.0401],"range":[430,373,215,54,0],"nice":false,"zero":false},
     "axis":{"title":null,"values":[-0.01,0,0.03],"format":".2f","labelExpr":"replace(datum.label,'\u2212','-')","tickSize":-10,"labelPadding":25}},
    "fill":{"field":"s","type":"nominal","scale":{"domain":["D751","T751","D613","T613"],"range":["#FF00FF","#008080","#FF00FF","#008080"]},"legend":null}
   }},
  {"data":{"name":"fit"},
   "mark":{"type":"line","color":"black","strokeWidth":4,"interpolate":"monotone"},
   "encoding":{"x":{"field":"t","type":"quantitative"},"y":{"field":"v","type":"quantitative"},"detail":{"field":"s","type":"nominal"}}},
  {"data":{"values":[{}]},"mark":{"type":"text","text":"B","font":"Liberation Sans","fontWeight":"bold","fontSize":26,"align":"center","baseline":"middle","color":"black"},"encoding":{"x":{"datum":232},"y":{"datum":0.0363}}},
  {"data":{"values":[{}]},"mark":{"type":"text","text":"Kinetic at 751 nm","font":"Liberation Sans","fontWeight":"bold","fontSize":22,"align":"left","baseline":"middle","color":"#0000FF"},"encoding":{"x":{"datum":430},"y":{"datum":0.0361}}},
  {"data":{"values":[{}]},"mark":{"type":"text","text":"Kinetic at 613 nm","font":"Liberation Sans","fontWeight":"bold","fontSize":22,"align":"left","baseline":"middle","color":"#0000FF"},"encoding":{"x":{"datum":370},"y":{"datum":-0.0035}}},
  {"data":{"values":[{}]},"mark":{"type":"circle","size":140,"stroke":"#1a1a1a","strokeWidth":0.8,"opacity":1,"fill":"#FF00FF"},"encoding":{"x":{"datum":160},"y":{"datum":0.0168}}},
  {"data":{"values":[{}]},"mark":{"type":"circle","size":140,"stroke":"#1a1a1a","strokeWidth":0.8,"opacity":1,"fill":"#008080"},"encoding":{"x":{"datum":163},"y":{"datum":0.0121}}},
  {"data":{"values":[{}]},"mark":{"type":"text","text":"DPP, t= 2.44ns ± 0.24","font":"Liberation Sans","fontWeight":"bold","fontSize":16,"align":"left","baseline":"middle","color":"#FF00FF"},"encoding":{"x":{"datum":222},"y":{"datum":0.0168}}},
  {"data":{"values":[{}]},"mark":{"type":"text","text":"DPP+ (0.05M) TCNE, t= 1.99ns± 0.14","font":"Liberation Sans","fontWeight":"bold","fontSize":16,"align":"left","baseline":"middle","color":"#008080"},"encoding":{"x":{"datum":248},"y":{"datum":0.0121}}},
  {"data":{"values":[{}]},"mark":{"type":"rule","color":"black","strokeWidth":4},"encoding":{"x":{"datum":90},"x2":{"datum":240},"y":{"datum":0.0069}}},
  {"data":{"values":[{}]},"mark":{"type":"text","text":"Fitting","font":"Liberation Sans","fontWeight":"bold","fontSize":16,"align":"left","baseline":"middle","color":"black"},"encoding":{"x":{"datum":250},"y":{"datum":0.0069}}},
  {"data":{"values":[{}]},"mark":{"type":"circle","size":140,"stroke":"#1a1a1a","strokeWidth":0.8,"opacity":1,"fill":"#FF00FF"},"encoding":{"x":{"datum":1555},"y":{"datum":-0.00878}}},
  {"data":{"values":[{}]},"mark":{"type":"circle","size":140,"stroke":"#1a1a1a","strokeWidth":0.8,"opacity":1,"fill":"#008080"},"encoding":{"x":{"datum":1558},"y":{"datum":-0.01068}}},
  {"data":{"values":[{}]},"mark":{"type":"text","text":"DPP, t= 2.22ns ± 0.21","font":"Liberation Sans","fontWeight":"bold","fontSize":16,"align":"left","baseline":"middle","color":"#FF00FF"},"encoding":{"x":{"datum":1662},"y":{"datum":-0.00878}}},
  {"data":{"values":[{}]},"mark":{"type":"text","text":"DPP+ (0.05M) TCNE, t= 1.29ns ± 0.06","font":"Liberation Sans","fontWeight":"bold","fontSize":16,"align":"left","baseline":"middle","color":"#008080"},"encoding":{"x":{"datum":1662},"y":{"datum":-0.01068}}},
  {"data":{"values":[{}]},"mark":{"type":"rule","color":"black","strokeWidth":4},"encoding":{"x":{"datum":1490},"x2":{"datum":1652},"y":{"datum":-0.0124}}},
  {"data":{"values":[{}]},"mark":{"type":"text","text":"Fitting","font":"Liberation Sans","fontWeight":"bold","fontSize":16,"align":"left","baseline":"middle","color":"black"},"encoding":{"x":{"datum":1662},"y":{"datum":-0.0124}}}
 ]
}
]
}
